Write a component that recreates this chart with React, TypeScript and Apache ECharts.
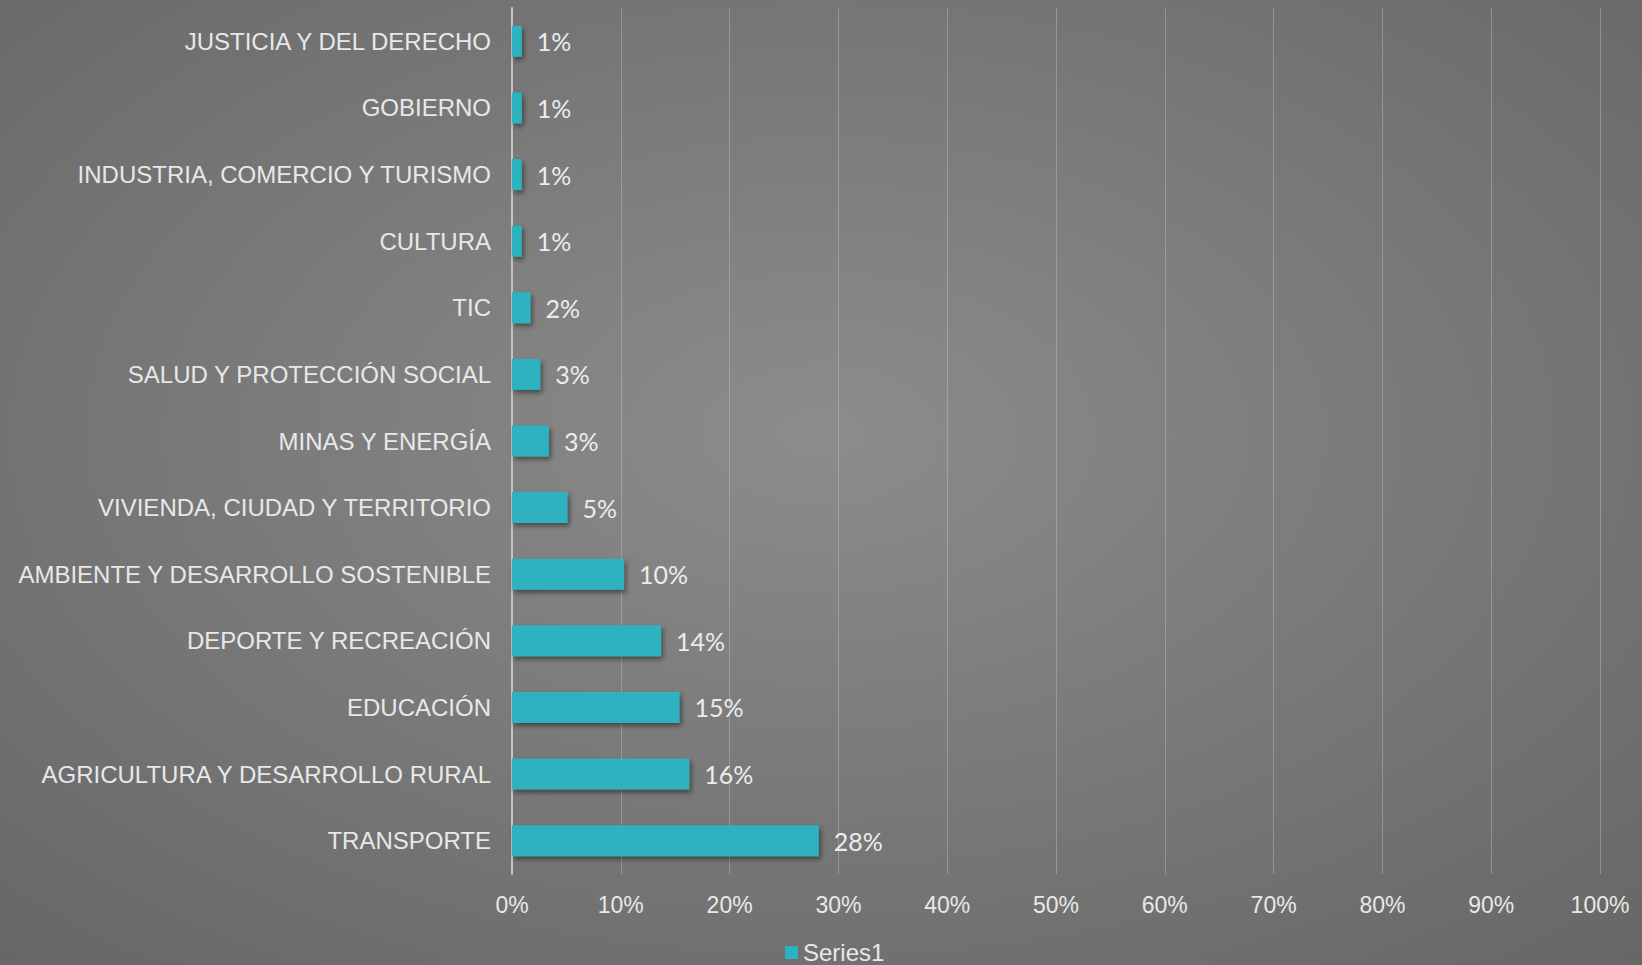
import React, { useEffect, useRef } from "react";
import * as echarts from "echarts";

const categories = [
  "JUSTICIA Y DEL DERECHO",
  "GOBIERNO",
  "INDUSTRIA, COMERCIO Y TURISMO",
  "CULTURA",
  "TIC",
  "SALUD Y PROTECCIÓN SOCIAL",
  "MINAS Y ENERGÍA",
  "VIVIENDA, CIUDAD Y TERRITORIO",
  "AMBIENTE Y DESARROLLO SOSTENIBLE",
  "DEPORTE Y RECREACIÓN",
  "EDUCACIÓN",
  "AGRICULTURA Y DESARROLLO RURAL",
  "TRANSPORTE",
];
const values = [0.9, 0.9, 0.9, 0.9, 1.7, 2.6, 3.4, 5.1, 10.3, 13.7, 15.4, 16.3, 28.2];
const labels = ["1%", "1%", "1%", "1%", "2%", "3%", "3%", "5%", "10%", "14%", "15%", "16%", "28%"];
const seriesName = "Series1";

export default function App() {
  const ref = useRef<HTMLDivElement>(null);
  useEffect(() => {
    if (!ref.current) return;
    const chart = echarts.init(ref.current, undefined, { renderer: "svg" });
    chart.setOption({
      animation: false,
      backgroundColor: {
        type: "radial",
        x: 0.5,
        y: 0.45,
        r: 0.75,
        colorStops: [
          { offset: 0, color: "#8c8c8c" },
          { offset: 1, color: "#666666" },
        ],
      },
      grid: { left: 512, right: 42, top: 8, bottom: 91, containLabel: false },
      legend: {
        data: [seriesName],
        left: 785,
        top: 940,
        icon: "rect",
        itemWidth: 13,
        itemHeight: 13,
        itemGap: 4,
        padding: 0,
        textStyle: {
          color: "#e8e8e8",
          fontSize: 24,
          lineHeight: 25,
          fontFamily: "Liberation Sans",
          padding: [0, 0, 0, 0],
        },
      },
      xAxis: {
        type: "value",
        min: 0,
        max: 100,
        interval: 10,
        axisLine: { show: false },
        axisTick: { show: false },
        splitLine: { lineStyle: { color: "rgba(190,190,190,0.45)", width: 1 } },
        axisLabel: {
          formatter: "{value}%",
          color: "#e8e8e8",
          fontSize: 23,
          fontFamily: "Liberation Sans",
          margin: 19,
        },
      },
      yAxis: {
        type: "category",
        data: categories,
        inverse: true,
        axisLine: { lineStyle: { color: "#c4c4c4", width: 2 } },
        axisTick: { show: false },
        axisLabel: {
          color: "#e8e8e8",
          fontSize: 24,
          fontFamily: "Liberation Sans",
          margin: 21,
        },
      },
      series: [
        {
          name: seriesName,
          type: "bar",
          data: values,
          barWidth: 31,
          itemStyle: {
            color: "#2DB2BF",
            shadowColor: "rgba(0,0,0,0.45)",
            shadowBlur: 5,
            shadowOffsetX: 2,
            shadowOffsetY: 3,
          },
          label: {
            show: true,
            position: "right",
            distance: 15,
            color: "#ececec",
            fontSize: 25,
            fontFamily: "Lato",
            padding: [4, 0, 0, 0],
            formatter: (p: any) => labels[p.dataIndex],
          },
        },
      ],
    });
    return () => chart.dispose();
  }, []);
  return (
    <div
      ref={ref}
      style={{ position: "absolute", left: 0, top: 0, width: 1642, height: 965 }}
    />
  );
}
